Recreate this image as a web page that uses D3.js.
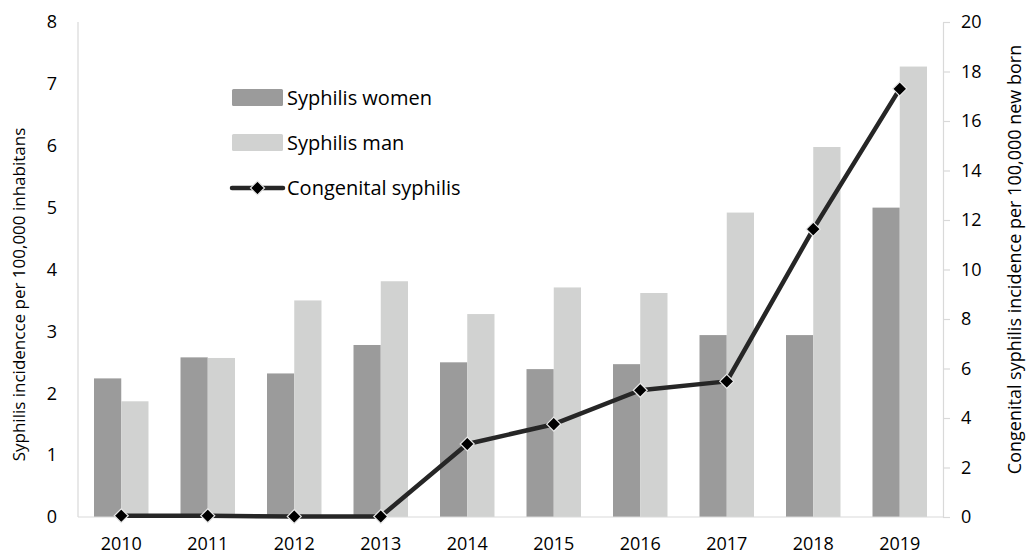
<!DOCTYPE html>
<html>
<head>
<meta charset="utf-8">
<script src="https://cdn.jsdelivr.net/npm/d3@7"></script>
<style>
  body { margin: 0; background: #fff; }
  svg text { font-family: "Open Sans", sans-serif; fill: #000; }
</style>
</head>
<body>
<div id="chart"></div>
<script>
const years = ["2010","2011","2012","2013","2014","2015","2016","2017","2018","2019"];
const women = [2.24, 2.58, 2.32, 2.78, 2.50, 2.39, 2.47, 2.94, 2.94, 5.00];
const men = [1.87, 2.57, 3.50, 3.81, 3.28, 3.71, 3.62, 4.92, 5.98, 7.28];
const congenital = [0.05, 0.05, 0.02, 0.02, 2.95, 3.75, 5.12, 5.48, 11.63, 17.3];
const leftTicks = [0, 1, 2, 3, 4, 5, 6, 7, 8];
const rightTicks = [0, 2, 4, 6, 8, 10, 12, 14, 16, 18, 20];

const legendItems = [
  { label: "Syphilis women", type: "bar", color: "#9b9b9b" },
  { label: "Syphilis man", type: "bar", color: "#d1d2d1" },
  { label: "Congenital syphilis", type: "line", color: "#262626" }
];

const width = 1027, height = 555;
const margin = { top: 22, right: 84, bottom: 38, left: 78 };
const axisColor = "#d9d9d9";
const tickFont = "18px";

const svg = d3.select("#chart").append("svg")
  .attr("width", width)
  .attr("height", height);

const x = d3.scaleBand()
  .domain(years)
  .range([margin.left, width - margin.right])
  .paddingInner(0.37)
  .paddingOuter(0.185);

const yL = d3.scaleLinear().domain([0, 8]).range([height - margin.bottom, margin.top]);
const yR = d3.scaleLinear().domain([0, 20]).range([height - margin.bottom, margin.top]);

const barW = x.bandwidth() / 2;

// bars
const g = svg.append("g");
g.selectAll("rect.women")
  .data(years)
  .join("rect")
  .attr("class", "women")
  .attr("x", d => x(d))
  .attr("width", barW)
  .attr("y", (d, i) => yL(women[i]))
  .attr("height", (d, i) => yL(0) - yL(women[i]))
  .attr("fill", legendItems[0].color);

g.selectAll("rect.men")
  .data(years)
  .join("rect")
  .attr("class", "men")
  .attr("x", d => x(d) + barW)
  .attr("width", barW)
  .attr("y", (d, i) => yL(men[i]))
  .attr("height", (d, i) => yL(0) - yL(men[i]))
  .attr("fill", legendItems[1].color);

// axes lines
svg.append("line")
  .attr("x1", margin.left).attr("x2", margin.left)
  .attr("y1", margin.top).attr("y2", yL(0))
  .attr("stroke", axisColor).attr("stroke-width", 1.2);

svg.append("line")
  .attr("x1", margin.left).attr("x2", width - margin.right)
  .attr("y1", yL(0)).attr("y2", yL(0))
  .attr("stroke", axisColor).attr("stroke-width", 1.2);

// left ticks
svg.append("g")
  .attr("transform", `translate(${margin.left},0)`)
  .call(d3.axisLeft(yL).tickValues(leftTicks).tickSize(0).tickPadding(21))
  .call(a => a.select(".domain").remove())
  .selectAll("text")
  .style("font-size", tickFont)
  .style("font-family", "'Open Sans', sans-serif");

// right axis
svg.append("g")
  .attr("transform", `translate(${width - margin.right},0)`)
  .call(d3.axisRight(yR).tickValues(rightTicks).tickSize(7).tickSizeOuter(0).tickPadding(11))
  .call(a => a.select(".domain").attr("stroke", axisColor).attr("stroke-width", 1.2))
  .call(a => a.selectAll(".tick line").attr("stroke", axisColor).attr("stroke-width", 1.2))
  .selectAll("text")
  .style("font-size", tickFont)
  .style("font-family", "'Open Sans', sans-serif");

// bottom labels
svg.append("g")
  .attr("transform", `translate(0,${yL(0)})`)
  .call(d3.axisBottom(x).tickSize(0).tickPadding(20))
  .call(a => a.select(".domain").remove())
  .selectAll("text")
  .style("font-size", tickFont)
  .style("font-family", "'Open Sans', sans-serif");

// line
const cx = d => x(d) + x.bandwidth() / 2;
const line = d3.line()
  .x((d, i) => cx(years[i]))
  .y(d => yR(d));

svg.append("path")
  .datum(congenital)
  .attr("d", line)
  .attr("fill", "none")
  .attr("stroke", legendItems[2].color)
  .attr("stroke-width", 4.5)
  .attr("stroke-linejoin", "round");

const diamond = d3.symbol().type(d3.symbolDiamond2).size(125);
svg.selectAll("path.marker")
  .data(congenital)
  .join("path")
  .attr("class", "marker")
  .attr("d", diamond)
  .attr("transform", (d, i) => `translate(${cx(years[i])},${yR(d)})`)
  .attr("fill", "#000")
  .attr("stroke", "#e8e8e8")
  .attr("stroke-width", 1.2);

// axis titles
svg.append("text")
  .attr("transform", `translate(25,${(margin.top + yL(0)) / 2 + 25}) rotate(-90)`)
  .attr("text-anchor", "middle")
  .style("font-size", "17px")
  .text("Syphilis incidencce per 100,000 inhabitans");

svg.append("text")
  .attr("transform", `translate(1021,${(margin.top + yL(0)) / 2 - 10}) rotate(-90)`)
  .attr("text-anchor", "middle")
  .style("font-size", "18px")
  .text("Congenital syphilis incidence per 100,000 new born");

// legend
const lg = svg.append("g").attr("transform", "translate(232,98)");
const rowH = 45;
legendItems.forEach((item, i) => {
  const row = lg.append("g").attr("transform", `translate(0,${i * rowH})`);
  if (item.type === "bar") {
    row.append("rect")
      .attr("x", 0).attr("y", -9)
      .attr("width", 51).attr("height", 17)
      .attr("rx", 1.5)
      .attr("fill", item.color);
  } else {
    row.append("line")
      .attr("x1", 0).attr("x2", 51)
      .attr("y1", 0).attr("y2", 0)
      .attr("stroke", item.color)
      .attr("stroke-width", 4.5)
      .attr("stroke-linecap", "round");
    row.append("path")
      .attr("d", diamond)
      .attr("transform", "translate(25.5,0)")
      .attr("fill", "#000")
      .attr("stroke", "#e8e8e8")
      .attr("stroke-width", 1.2);
  }
  row.append("text")
    .attr("x", 55)
    .attr("y", 0)
    .attr("dy", "0.35em")
    .style("font-size", "20px")
    .text(item.label);
});
</script>
</body>
</html>
